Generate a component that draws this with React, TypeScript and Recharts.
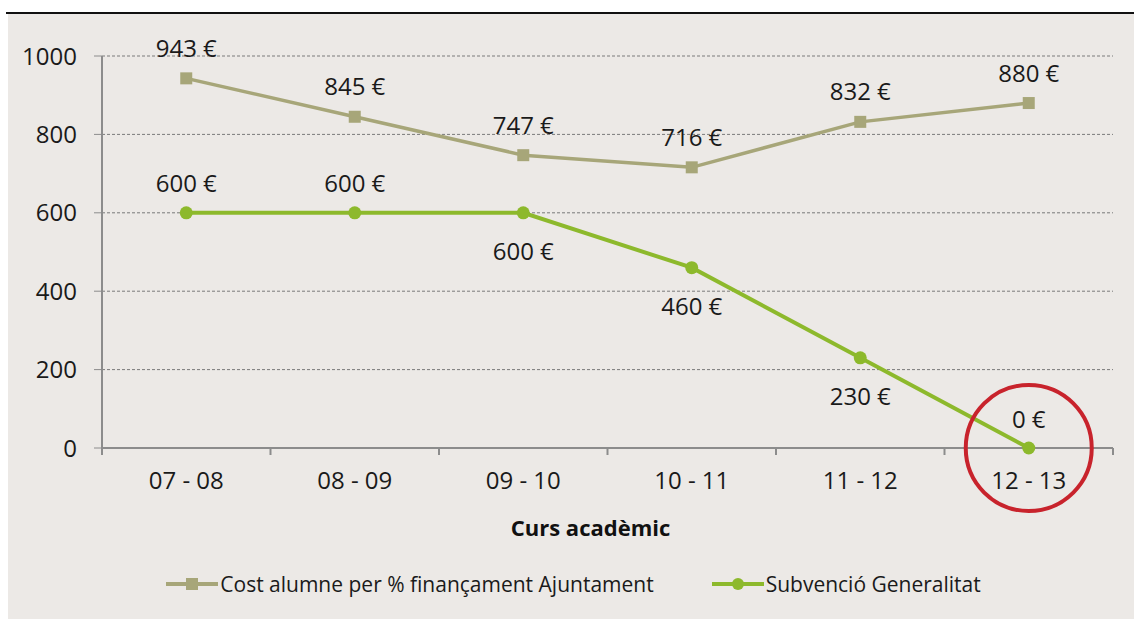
import React from "react";
import {
  LineChart,
  Line,
  XAxis,
  YAxis,
  CartesianGrid,
  Legend,
  LabelList,
  ReferenceDot,
} from "recharts";

const categories = ["07 - 08", "08 - 09", "09 - 10", "10 - 11", "11 - 12", "12 - 13"];
const costValues = [943, 845, 747, 716, 832, 880];
const subvValues = [600, 600, 600, 460, 230, 0];
const yTicks = [0, 200, 400, 600, 800, 1000];
const subvLabelSide = ["top", "top", "bottom", "bottom", "bottom", "top"];

const COST_NAME = "Cost alumne per % finançament Ajuntament";
const SUBV_NAME = "Subvenció Generalitat";
const FONT = "'Open Sans', sans-serif";
const FS = 24;
const AXIS_COLOR = "#8c8c8c";
const COST_COLOR = "#A7A679";
const SUBV_COLOR = "#8DB92C";
const X_TICK_SIZE = 7;
const X_TICK_MARGIN = 25;

const data = categories.map((c, i) => ({
  curs: c,
  cost: costValues[i],
  subv: subvValues[i],
}));

const CostLabel = (props: any) => {
  const { x, y, value } = props;
  return (
    <text x={x} y={y - 31} textAnchor="middle" dominantBaseline="central" fontSize={FS} fill="#1a1a1a" fontFamily={FONT}>
      {`${value} €`}
    </text>
  );
};

const SubvLabel = (props: any) => {
  const { x, y, value, index } = props;
  const side = subvLabelSide[index];
  const dy = side === "top" ? -30 : 38;
  return (
    <text x={x} y={y + dy} textAnchor="middle" dominantBaseline="central" fontSize={FS} fill="#1a1a1a" fontFamily={FONT}>
      {`${value} €`}
    </text>
  );
};

const XTick = (props: any) => {
  const { x, y, payload, index, visibleTicksCount } = props;
  const axisY = y - X_TICK_SIZE - X_TICK_MARGIN;
  const half = payload && payload.offset ? payload.offset : 0;
  const isLast = index === (visibleTicksCount ?? categories.length) - 1;
  return (
    <g>
      <line x1={x - half} y1={axisY} x2={x - half} y2={axisY + X_TICK_SIZE} stroke={AXIS_COLOR} strokeWidth={2} />
      {isLast && (
        <line x1={x + half} y1={axisY} x2={x + half} y2={axisY + X_TICK_SIZE} stroke={AXIS_COLOR} strokeWidth={2} />
      )}
      <text x={x} y={axisY + 31} textAnchor="middle" dominantBaseline="central" fontSize={FS} fill="#1a1a1a" fontFamily={FONT}>
        {payload.value}
      </text>
    </g>
  );
};

const LegendContent = (props: any) => {
  const { payload } = props;
  return (
    <div style={{ display: "flex", justifyContent: "center", alignItems: "center", gap: 58, fontFamily: FONT, fontSize: 21, color: "#1a1a1a", paddingLeft: 34, marginTop: 5 }}>
      {(payload || []).map((p: any) => (
        <div key={p.value} style={{ display: "flex", alignItems: "center" }}>
          <svg width={52} height={16} style={{ marginRight: 2 }}>
            <line x1={0} y1={8} x2={52} y2={8} stroke={p.color} strokeWidth={4} />
            {p.type === "square" ? (
              <rect x={20} y={2} width={12} height={12} fill={p.color} />
            ) : (
              <circle cx={26} cy={8} r={6} fill={p.color} />
            )}
          </svg>
          <span>{p.value}</span>
        </div>
      ))}
    </div>
  );
};

export default function App() {
  return (
    <div style={{ position: "absolute", left: 0, top: 0, width: 1134, height: 619, background: "#fff", overflow: "hidden" }}>
      <div style={{ position: "absolute", left: 8, top: 14, width: 1126, height: 605, background: "#ECE9E6" }} />
      <div style={{ position: "absolute", left: 6, top: 12, width: 1128, height: 2, background: "#111" }} />
      <div style={{ position: "absolute", left: 0, top: 0 }}>
        <LineChart
          width={1134}
          height={619}
          data={data}
          margin={{ top: 56, right: 21, bottom: 24, left: 0 }}
        >
          <CartesianGrid vertical={false} stroke="#7a7a7a" strokeDasharray="3 2" />
          <XAxis
            dataKey="curs"
            scale="band"
            height={117}
            axisLine={{ stroke: AXIS_COLOR, strokeWidth: 2 }}
            tickLine={false}
            tickSize={X_TICK_SIZE}
            tickMargin={X_TICK_MARGIN}
            tick={<XTick />}
            interval={0}
            label={{ value: "Curs acadèmic", position: "insideBottom", offset: 29, dx: -17, fontSize: 22, fontWeight: 700, fill: "#111", fontFamily: FONT }}
          />
          <YAxis
            domain={[0, 1000]}
            ticks={yTicks}
            width={102}
            tickSize={8}
            tickMargin={17}
            axisLine={{ stroke: AXIS_COLOR, strokeWidth: 2 }}
            tickLine={{ stroke: AXIS_COLOR }}
            tick={{ fontSize: FS, fill: "#1a1a1a", fontFamily: FONT }}
          />
          <Legend verticalAlign="bottom" wrapperStyle={{ height: 30 }} content={<LegendContent />} />
          <Line
            type="linear"
            dataKey="cost"
            name={COST_NAME}
            stroke={COST_COLOR}
            strokeWidth={3.5}
            legendType="square"
            isAnimationActive={false}
            dot={(p: any) => (
              <rect key={`c${p.index}`} x={p.cx - 6} y={p.cy - 6} width={12} height={12} fill={COST_COLOR} />
            )}
          >
            <LabelList dataKey="cost" content={<CostLabel />} />
          </Line>
          <Line
            type="linear"
            dataKey="subv"
            name={SUBV_NAME}
            stroke={SUBV_COLOR}
            strokeWidth={4}
            legendType="circle"
            isAnimationActive={false}
            dot={{ r: 6.5, fill: SUBV_COLOR, stroke: SUBV_COLOR, strokeWidth: 0 }}
          >
            <LabelList dataKey="subv" content={<SubvLabel />} />
          </Line>
          <ReferenceDot x="12 - 13" y={0} r={63} fill="none" stroke="#C8232C" strokeWidth={4} ifOverflow="visible" />
        </LineChart>
      </div>
    </div>
  );
}
